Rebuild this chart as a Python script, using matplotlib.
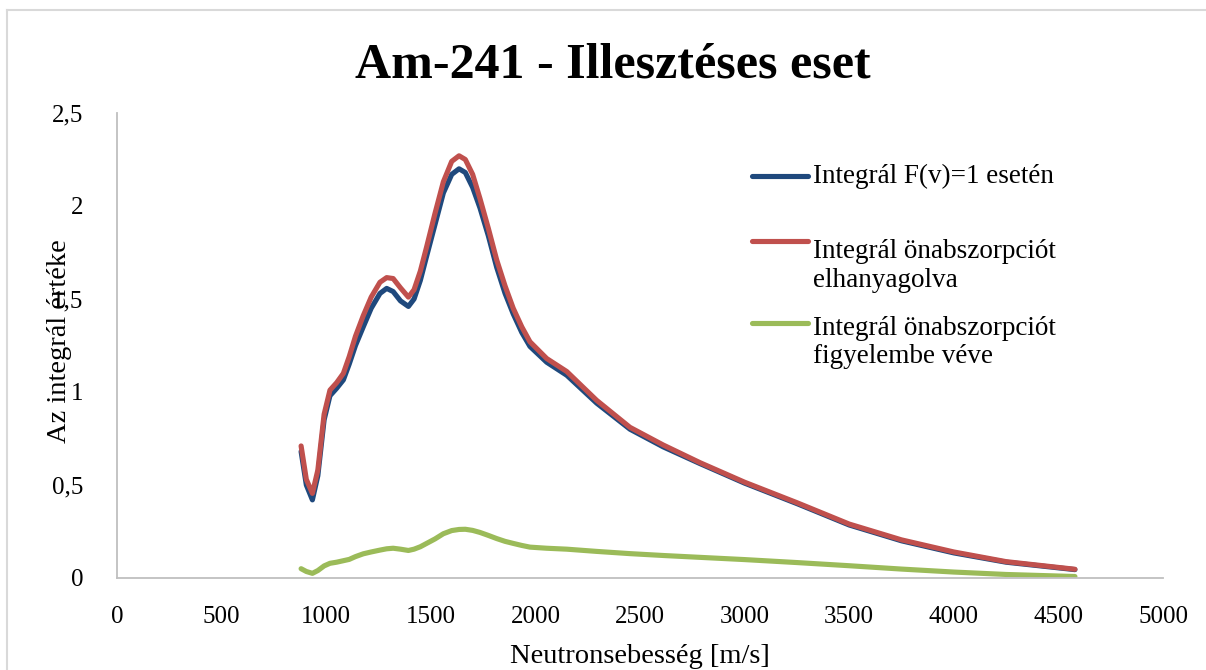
import matplotlib
matplotlib.use("Agg")
import matplotlib.pyplot as plt
from matplotlib.lines import Line2D

plt.rcParams['font.family'] = ['Liberation Serif', 'DejaVu Serif']

# Neutron speed [m/s]
speed = [880, 905, 934, 960, 990, 1018, 1050, 1082, 1110, 1140, 1177, 1215,
         1257, 1289, 1320, 1355, 1393, 1420, 1450, 1480, 1520, 1560, 1600,
         1635, 1665, 1700, 1735, 1775, 1815, 1855, 1894, 1935, 1974, 2054,
         2150, 2293, 2452, 2611, 2787, 3000, 3250, 3500, 3750, 4000, 4250, 4579]

# Integral F(v)=1
integral_f1 = [0.68, 0.50, 0.42, 0.55, 0.85, 0.98, 1.02, 1.065, 1.15, 1.25, 1.35, 1.45,
               1.53, 1.557, 1.54, 1.49, 1.46, 1.50, 1.60, 1.73, 1.90, 2.07, 2.17,
               2.20, 2.18, 2.10, 1.99, 1.84, 1.67, 1.53, 1.42, 1.32, 1.245, 1.16,
               1.09, 0.94, 0.80, 0.705, 0.615, 0.51, 0.40, 0.285, 0.20, 0.135, 0.085, 0.045]

# Integral, self-absorption neglected
integral_neglect = [0.71, 0.53, 0.455, 0.58, 0.88, 1.01, 1.05, 1.10, 1.19, 1.30, 1.41, 1.51,
                    1.59, 1.615, 1.61, 1.56, 1.51, 1.55, 1.65, 1.78, 1.96, 2.13, 2.24,
                    2.27, 2.25, 2.17, 2.04, 1.88, 1.71, 1.57, 1.45, 1.35, 1.27, 1.18,
                    1.11, 0.955, 0.81, 0.715, 0.62, 0.515, 0.405, 0.29, 0.205, 0.14, 0.088, 0.047]

# Integral, self-absorption considered
integral_selfabs = [0.05, 0.035, 0.025, 0.04, 0.065, 0.079, 0.085, 0.093, 0.10, 0.115, 0.13, 0.14,
                    0.15, 0.157, 0.16, 0.155, 0.148, 0.155, 0.168, 0.186, 0.21, 0.238, 0.255,
                    0.261, 0.262, 0.256, 0.245, 0.229, 0.212, 0.197, 0.186, 0.175, 0.166, 0.16,
                    0.155, 0.143, 0.131, 0.121, 0.111, 0.099, 0.083, 0.066, 0.048, 0.032, 0.019, 0.008]

x_ticks = [0, 500, 1000, 1500, 2000, 2500, 3000, 3500, 4000, 4500, 5000]
y_ticks = [0, 0.5, 1, 1.5, 2, 2.5]
y_tick_labels = ['0', '0,5', '1', '1,5', '2', '2,5']

labels = ['Integrál F(v)=1 esetén',
          'Integrál önabszorpciót\nelhanyagolva',
          'Integrál önabszorpciót\nfigyelembe véve']
colors = ['#1F497D', '#C0504D', '#9BBB59']

W, H = 1206, 670
fig = plt.figure(figsize=(W / 100, H / 100), dpi=100)
ax = fig.add_axes([117 / W, 1 - 578 / H, (1163 - 117) / W, (578 - 113) / H])

lw = 3.7
for series, c in zip([integral_f1, integral_neglect, integral_selfabs], colors):
    ax.plot(speed, series, color=c, lw=lw, solid_joinstyle='round',
            solid_capstyle='round')

ax.set_xlim(0, 5000)
ax.set_ylim(0, 2.5)
ax.set_xticks(x_ticks)
ax.set_xticklabels([str(t) for t in x_ticks])
ax.set_yticks(y_ticks)
ax.set_yticklabels(y_tick_labels)
ax.tick_params(axis='both', length=0, labelsize=18, colors='black')
ax.tick_params(axis='y', pad=24)
ax.tick_params(axis='x', pad=20)

for s in ['top', 'right']:
    ax.spines[s].set_visible(False)
for s in ['left', 'bottom']:
    ax.spines[s].set_color('#BFBFBF')
    ax.spines[s].set_linewidth(1.3)

ax.set_xlabel('Neutronsebesség [m/s]', fontsize=20.5)
ax.xaxis.set_label_coords(0.5, -0.143)
ax.set_ylabel('Az integrál értéke', fontsize=20.5)
ax.yaxis.set_label_coords(-0.043, 0.51)

fig.text(613 / W, 1 - 65 / H, 'Am-241 - Illesztéses eset', ha='center', va='center',
         fontsize=36, fontweight='bold')

# legend drawn by hand (handle next to first text line)
handle_y = [176, 241, 323]
text_base = [[183], [258, 287], [335, 363]]
for lab, c, hy, bases in zip(labels, colors, handle_y, text_base):
    fig.add_artist(Line2D([752 / W, 808 / W], [1 - hy / H, 1 - hy / H],
                          color=c, lw=lw, solid_capstyle='round',
                          transform=fig.transFigure))
    for line, b in zip(lab.split('\n'), bases):
        fig.text(813 / W, 1 - b / H, line, ha='left', va='baseline', fontsize=19.5)

# chart frame
fig.add_artist(Line2D([7 / W, 7 / W], [0, 1 - 10 / H], color='#D9D9D9', lw=1.5,
                      transform=fig.transFigure))
fig.add_artist(Line2D([7 / W, 1], [1 - 10 / H, 1 - 10 / H], color='#D9D9D9', lw=1.5,
                      transform=fig.transFigure))

fig.savefig('out.png', dpi=100)
